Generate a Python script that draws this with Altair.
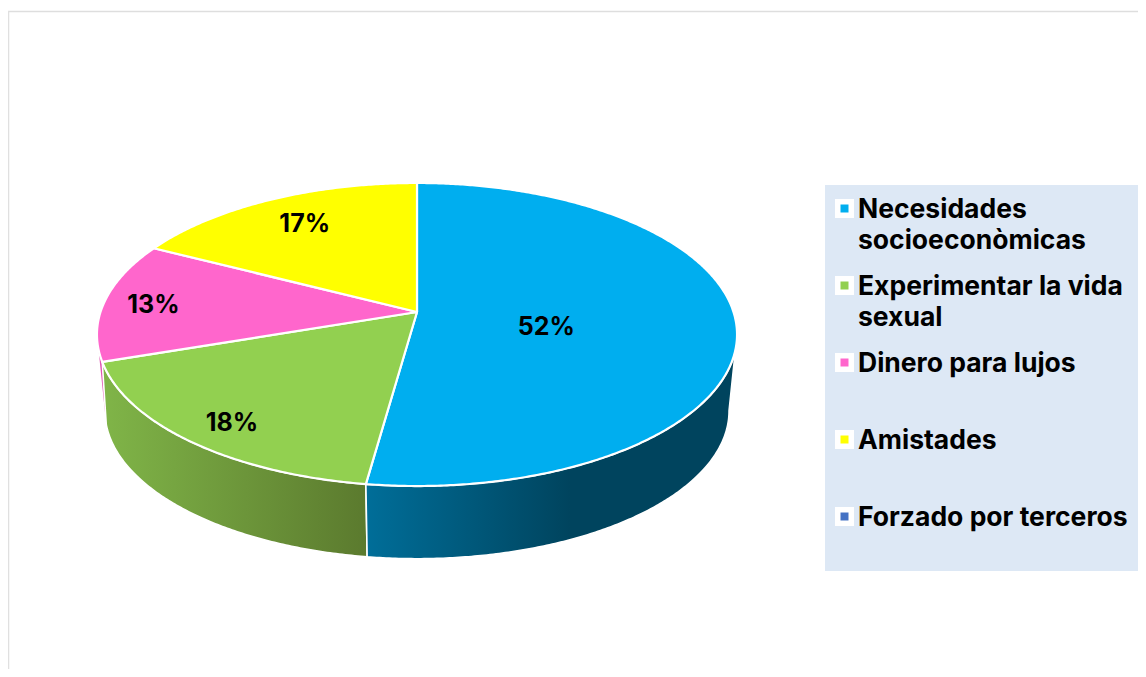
import numpy as np
import altair as alt

categories = ["Necesidades socioeconòmicas", "Experimentar la vida sexual", "Dinero para lujos", "Amistades", "Forzado por terceros"]
legend_text = ["Necesidades\nsocioeconòmicas", "Experimentar la vida\nsexual", "Dinero para lujos", "Amistades", "Forzado por terceros"]
values = [52.2, 17.6, 12.8, 17.4, 0.0]
palette = ["#00AEEF", "#92D050", "#FF66CC", "#FFFF00", "#4472C4"]
wall_light = ["#006E99", "#80B548", "#E055B4", "#C8C800", "#3A60A8"]
wall_dark = ["#00445E", "#5B7A2E", "#E055B4", "#C8C800", "#3A60A8"]
wall_stop = [0.55, 1.0, 1.0, 1.0, 1.0]
label_angle = [104, 218, 273.2, 329, 0]
label_radius = [0.415, 0.855, 0.84, 0.755, 0]

W, H = 1130, 661
APEX = [409, 304]
R, B, K = 316.5, 148.2, 0.1485
WALL_SCALE, WALL_DROP = 0.975, 77
SIDE = 98.5  # rim angle of the widest point of the pie


def rim(deg, f=1.0, scale=1.0, drop=0.0):
    t = np.radians(deg)
    u, v = f * np.sin(t), -f * np.cos(t)
    d = 1 - K * v
    return (scale * R * u / d), (drop + scale * B * v / d)


def arc(a, b, **kw):
    n = max(int(abs(b - a)) * 2, 2)
    xs, ys = rim(np.linspace(a, b, n + 1), **kw)
    return [[float(x), float(y)] for x, y in zip(xs, ys)]


def feature(name, ring):
    ring = ring + [ring[0]]
    return {"type": "Feature", "properties": {"name": name},
            "geometry": {"type": "Polygon", "coordinates": [ring]}}


edges = np.cumsum([0] + values) / sum(values) * 360
proj = dict(type="identity", scale=1, translate=APEX)
lower = dict(scale=WALL_SCALE, drop=WALL_DROP)

walls = []
for i in [2, 1, 0]:
    a, b = float(edges[i]), float(edges[i + 1])
    if i == 2:
        # the sliver of this wall that shows outside the next one
        ring = arc(a, 360 - SIDE) + arc(a + 5, a + 5.5, **lower)
    elif i == 1:
        ring = arc(a, b) + arc(b + 5, a, **lower)
    else:
        ring = arc(SIDE, b) + arc(b, SIDE, **lower)
    stops = [alt.GradientStop(offset=0, color=wall_light[i]),
             alt.GradientStop(offset=wall_stop[i], color=wall_dark[i]),
             alt.GradientStop(offset=1, color=wall_dark[i])]
    grad = alt.LinearGradient(gradient="linear", stops=stops, x1=0, x2=1, y1=0, y2=0)
    walls.append(
        alt.Chart(alt.Data(values=[feature(categories[i], ring)]))
        .mark_geoshape(fill=grad, stroke="white", strokeWidth=0.0 if i == 2 else 1.6)
        .project(**proj)
    )

top_features = []
for i in range(4):
    a, b = float(edges[i]), float(edges[i + 1])
    top_features.append(feature(categories[i], [[0.0, 0.0]] + arc(a, b)))

color = alt.Color("name:N", scale=alt.Scale(domain=categories, range=palette), legend=None)
color_top = alt.Color("properties.name:N", scale=alt.Scale(domain=categories, range=palette), legend=None)

tops = (
    alt.Chart(alt.Data(values=top_features))
    .mark_geoshape(stroke="white", strokeWidth=2.2, strokeJoin="round")
    .encode(color=color_top)
    .project(**proj)
)

label_rows = []
for i in range(4):
    x, y = rim(label_angle[i], f=label_radius[i])
    label_rows.append({"lon": float(x), "lat": float(y), "label": f"{round(values[i])}%"})

FONT = "Inter"
labels = (
    alt.Chart(alt.Data(values=label_rows))
    .mark_text(font=FONT, fontWeight="bold", fontSize=25, color="black", baseline="middle", align="center")
    .encode(longitude="lon:Q", latitude="lat:Q", text="label:N")
    .project(**proj)
)

legend_rows = [{"name": c, "text": t} for c, t in zip(categories, legend_text)]
legend_data = alt.Data(values=legend_rows)
row_y = alt.Y("name:N", axis=None,
              scale=alt.Scale(type="point", domain=categories, range=[200.5, 508.5], padding=0))

panel = alt.Chart(alt.Data(values=[{"p": 1}])).mark_rect(color="#DDE8F5").encode(
    x=alt.value(817), x2=alt.value(W), y=alt.value(177), y2=alt.value(563)
)
frame_top = alt.Chart(alt.Data(values=[{"p": 1}])).mark_rule(color="#DEDEDE", strokeWidth=1.5).encode(
    x=alt.value(0), x2=alt.value(W), y=alt.value(3.5)
)
frame_left = alt.Chart(alt.Data(values=[{"p": 1}])).mark_rule(color="#E0E0E0", strokeWidth=1.5).encode(
    x=alt.value(0.5), y=alt.value(3), y2=alt.value(H)
)
box = alt.Chart(legend_data).mark_square(color="white", size=361, opacity=1).encode(x=alt.value(836.5), y=row_y)
chip = alt.Chart(legend_data).mark_square(size=64, opacity=1).encode(x=alt.value(836.5), y=row_y, color=color)
legend_labels = alt.Chart(legend_data).mark_text(
    font=FONT, fontWeight="bold", fontSize=26.5, color="black", align="left",
    baseline="alphabetic", dy=9, lineBreak="\n", lineHeight=31
).encode(x=alt.value(850), y=row_y, text="text:N")

chart = alt.layer(
    frame_top, frame_left, *walls, tops, labels, panel, box, chip, legend_labels
).resolve_scale(color="shared").properties(
    width=W, height=H, padding=0, autosize=alt.AutoSizeParams(type="none"), background="white"
).configure_view(stroke=None)

chart.save("out.html", embed_options={"renderer": "svg", "actions": False})
